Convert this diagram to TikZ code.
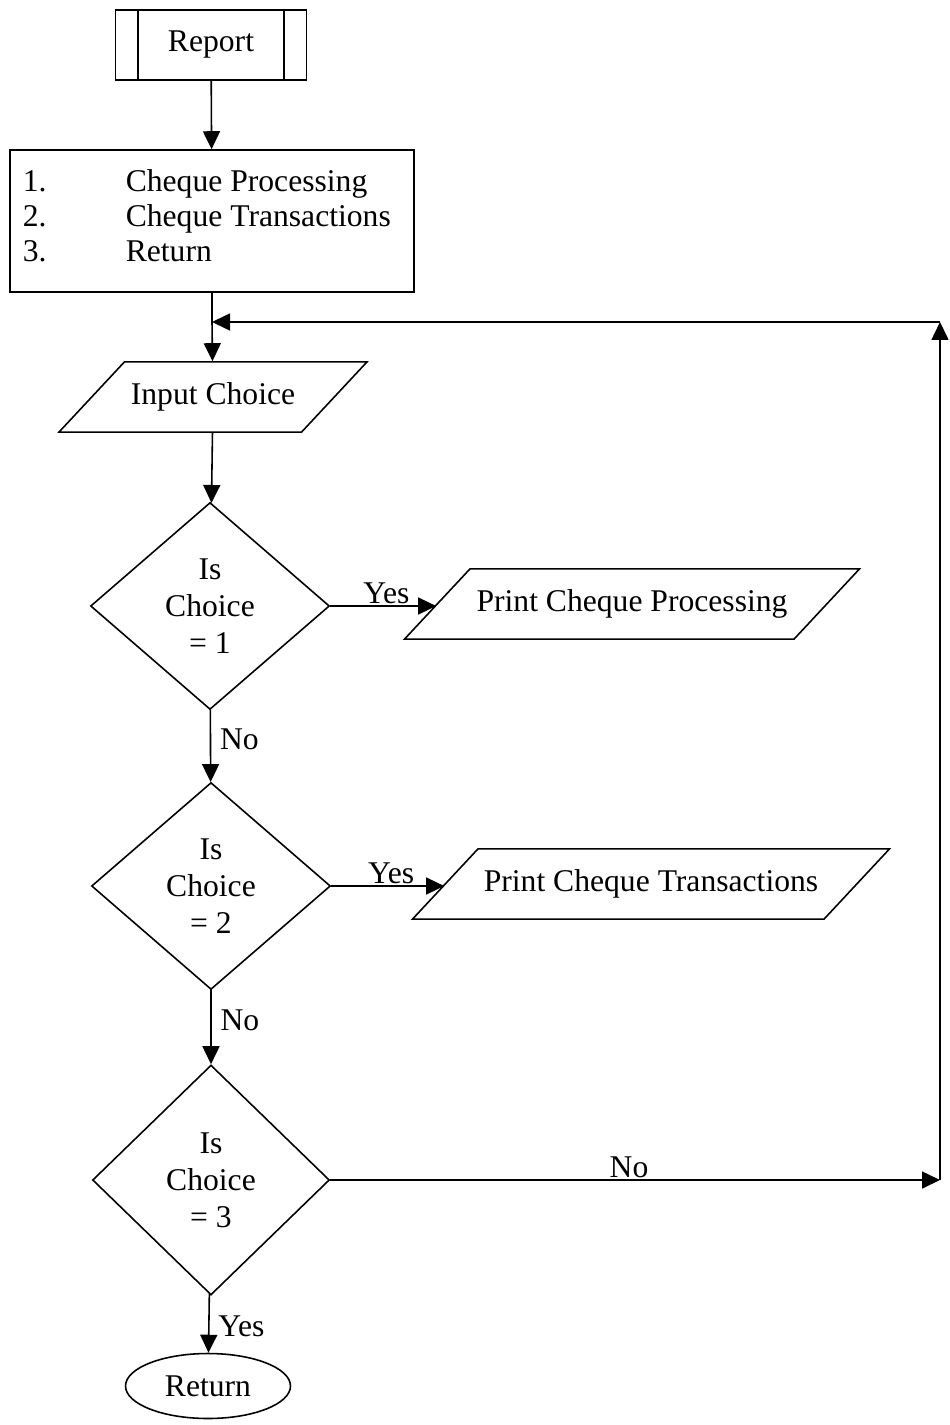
\documentclass[tikz,border=0pt]{standalone}
\usepackage{fontspec}
\setmainfont{Liberation Serif}
\usetikzlibrary{arrows.meta}
\usetikzlibrary{shapes.geometric}
\tikzset{
  box/.style={draw, rectangle, inner sep=0pt},
  io/.style={draw, trapezium, trapezium left angle=47, trapezium right angle=133,
    trapezium stretches body, inner xsep=0pt, inner ysep=0.42cm,
    text height=12pt, text depth=4pt},
  decision/.style={draw, diamond, inner sep=0pt, align=center,
    minimum width=4.78cm, minimum height=4.14cm},
  stop/.style={draw, ellipse, minimum width=3.3cm, minimum height=1.3cm},
  lbl/.style={inner sep=1pt}
}

\begin{document}
\begin{tikzpicture}[
% filled heads on all connectors
>={Triangle[length=0.36cm,width=0.34cm]},
x=0.02cm, y=-0.02cm, line width=0.9pt,
font=\fontsize{18}{21}\selectfont]

\useasboundingbox (0,0) rectangle (949,1425);

\node[box, minimum width=3.82cm, minimum height=1.4cm] (report) at (211,45) {Report};
\draw ([xshift=0.46cm]report.north west) -- ([xshift=0.46cm]report.south west);
\draw ([xshift=-0.46cm]report.north east) -- ([xshift=-0.46cm]report.south east);

\node[box, minimum width=8.08cm, minimum height=2.84cm] (menu) at (212,221) {};
\foreach \k/\txt in {1/Cheque Processing,2/Cheque Transactions,3/Return} {
  \node[anchor=base west, inner sep=0pt] (num\k) at (22,157+35*\k) {\k.};
  \node[anchor=base west, inner sep=0pt] (opt\k) at (125,157+35*\k) {\txt};
}

\node[io, minimum width=6.16cm] (input) at (213,397) {Input Choice};
\node[decision] (d1) at (210,606) {Is\\Choice\\= 1};
\node[io, minimum width=9.1cm] (p1) at (632,604) {Print Cheque Processing};
\node[decision] (d2) at (211,886) {Is\\Choice\\= 2};
\node[io, minimum width=9.54cm] (p2) at (651,884) {Print Cheque Transactions};
\node[decision, minimum width=4.74cm, minimum height=4.6cm] (d3) at (211,1180) {Is\\Choice\\= 3};
\node[stop] (ret) at (208,1386) {Return};

\coordinate (join) at (212,322);
\coordinate (loopT) at (940,322);
\coordinate (loopB) at (940,1180);

\draw[->] (report) -- (menu);
\draw (menu.south) -- (join);
\draw[->] (join) -- (input);
\draw[->] (input) -- (d1);
\draw[->] (d1.east) -- node[lbl, above, pos=0.53] {Yes} (p1.west |- d1.east);
\draw[->] (d1) -- node[lbl, right=4pt, pos=0.41] {No} (d2);
\draw[->] (d2.east) -- node[lbl, above, pos=0.53] {Yes} (p2.west |- d2.east);
\draw[->] (d2) -- node[lbl, right=4pt, pos=0.41] {No} (d3);
\draw[->] (d3) -- node[lbl, above, pos=0.49] {No} (loopB);
\draw[->] (d3) -- node[lbl, right=4pt, pos=0.55] {Yes} (ret);
\draw[->] (loopB) -- (loopT);
\draw[->] (loopT) -- (join);
\end{tikzpicture}
\end{document}
